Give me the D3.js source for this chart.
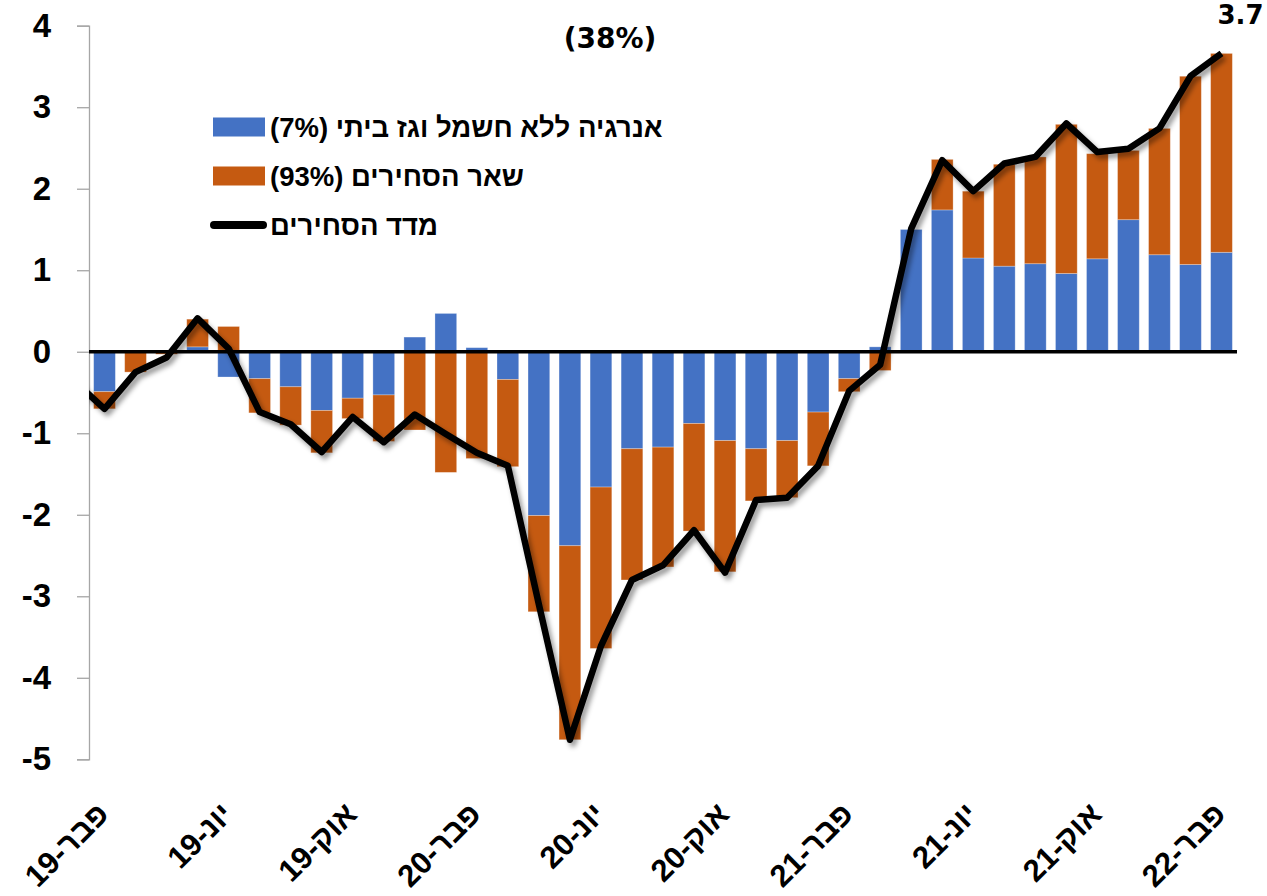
<!DOCTYPE html>
<html>
<head>
<meta charset="utf-8">
<script src="https://cdn.jsdelivr.net/npm/d3@7"></script>
<style>
  body { margin: 0; background: #fff; }
  text { font-family: "Liberation Sans", "DejaVu Sans", sans-serif; font-weight: bold; fill: #000; }
  .wide { font-family: "DejaVu Sans", "Liberation Sans", sans-serif; }
</style>
</head>
<body>
<div id="chart"></div>
<script>
// months Feb-19 .. Feb-22
const months = [
  "פבר-19","מרץ-19","אפר-19","מאי-19","יונ-19","יול-19","אוג-19","ספט-19","אוק-19","נוב-19","דצמ-19",
  "ינו-20","פבר-20","מרץ-20","אפר-20","מאי-20","יונ-20","יול-20","אוג-20","ספט-20","אוק-20","נוב-20","דצמ-20",
  "ינו-21","פבר-21","מרץ-21","אפר-21","מאי-21","יונ-21","יול-21","אוג-21","ספט-21","אוק-21","נוב-21","דצמ-21",
  "ינו-22","פבר-22"
];
const tickMonths = ["פבר-19","יונ-19","אוק-19","פבר-20","יונ-20","אוק-20","פבר-21","יונ-21","אוק-21","פבר-22"];

// energy excl. electricity & gas (7%)
const energy = [
  -0.49, 0.00, 0.00, 0.06, -0.31, -0.33, -0.43, -0.72, -0.57, -0.53, 0.18,
  0.47, 0.05, -0.34, -2.01, -2.38, -1.66, -1.19, -1.17, -0.88, -1.09, -1.19, -1.09,
  -0.74, -0.33, 0.06, 1.50, 1.74, 1.15, 1.05, 1.08, 0.96, 1.14, 1.62, 1.19,
  1.07, 1.22
];
// rest of tradables (93%)
const rest = [
  -0.21, -0.25, -0.03, 0.34, 0.31, -0.42, -0.47, -0.52, -0.25, -0.57, -0.96,
  -1.48, -1.31, -1.07, -1.18, -2.38, -1.98, -1.61, -1.47, -1.32, -1.61, -0.64, -0.70,
  -0.66, -0.16, -0.23, 0.00, 0.62, 0.82, 1.25, 1.31, 1.83, 1.29, 0.85, 1.55,
  2.31, 2.44
];
// tradables index, starting one month earlier (Jan-19)
const indexValues = [
  -0.35,
  -0.70, -0.25, -0.07, 0.41, 0.04, -0.74, -0.89, -1.23, -0.80, -1.11, -0.77,
  -1.01, -1.24, -1.40, -3.10, -4.76, -3.61, -2.80, -2.62, -2.19, -2.71, -1.82, -1.79,
  -1.40, -0.48, -0.16, 1.51, 2.35, 1.97, 2.31, 2.39, 2.80, 2.45, 2.49, 2.74,
  3.38, 3.66
];
const yTicks = [4, 3, 2, 1, 0, -1, -2, -3, -4, -5];
const legendLabels = ["אנרגיה ללא חשמל וגז ביתי (7%)", "שאר הסחירים (93%)", "מדד הסחירים"];
const titleText = "(38%)";
const lastLabel = "3.7";

const width = 1267, height = 896;
const margin = { left: 89, right: 1237, top: 25.7, bottom: 759.3 };
const colors = { energy: "#4472C4", rest: "#C55A11" };

const svg = d3.select("#chart").append("svg")
  .attr("width", width).attr("height", height);

const defs = svg.append("defs");
const shadow = defs.append("filter").attr("id", "shadow")
  .attr("x", "-10%").attr("y", "-10%").attr("width", "130%").attr("height", "130%");
shadow.append("feDropShadow").attr("dx", 3).attr("dy", 4)
  .attr("stdDeviation", 2.5).attr("flood-color", "#000").attr("flood-opacity", 0.4);
defs.append("clipPath").attr("id", "plot")
  .append("rect").attr("x", margin.left).attr("y", 0).attr("width", width - margin.left).attr("height", height);

const x = d3.scaleBand().domain(months).range([margin.left, margin.right]).paddingInner(0.3).paddingOuter(0.15);
const y = d3.scaleLinear().domain([-5, 4]).range([margin.bottom, margin.top]);
const step = x.step();
const cx = m => x(m) + x.bandwidth() / 2;

// y axis
const yAxis = svg.append("g")
  .attr("transform", `translate(${margin.left},0)`)
  .call(d3.axisLeft(y).tickValues(yTicks).tickSize(12).tickPadding(26).tickFormat(d => String(d)));
yAxis.select(".domain").attr("stroke", "#a6a6a6").attr("stroke-width", 1.3);
yAxis.selectAll(".tick line").attr("stroke", "#a6a6a6").attr("stroke-width", 1.3);
yAxis.selectAll(".tick text").style("font-size", "33px").attr("fill", "#000");

// stacked bars (positives and negatives stacked separately)
const rows = months.map((m, i) => ({ month: m, energy: energy[i], rest: rest[i] }));
const stacked = d3.stack().keys(["energy", "rest"]).offset(d3.stackOffsetDiverging)(rows);

svg.append("g").selectAll("g")
  .data(stacked).join("g")
  .attr("fill", d => colors[d.key])
  .selectAll("rect")
  .data(d => d).join("rect")
  .attr("x", d => x(d.data.month))
  .attr("width", x.bandwidth())
  .attr("y", d => y(d[1]))
  .attr("height", d => Math.abs(y(d[0]) - y(d[1])))
  .attr("stroke", "rgba(255,255,255,0.35)")
  .attr("stroke-width", 0.8);

// zero line
svg.append("line")
  .attr("x1", margin.left).attr("x2", margin.right)
  .attr("y1", y(0)).attr("y2", y(0))
  .attr("stroke", "#000").attr("stroke-width", 3.4);

// index line
const linePts = indexValues.map((v, i) => ({ x: cx(months[0]) + (i - 1) * step, v }));
const line = d3.line().x(d => d.x).y(d => y(d.v));
svg.append("g").attr("clip-path", "url(#plot)")
  .append("path")
  .datum(linePts)
  .attr("d", line)
  .attr("fill", "none")
  .attr("stroke", "#000")
  .attr("stroke-width", 6.5)
  .attr("stroke-linejoin", "round")
  .attr("filter", "url(#shadow)");

// last value label
svg.append("text")
  .attr("class", "wide")
  .attr("x", cx(months[months.length - 1]) + 19)
  .attr("y", 24)
  .attr("text-anchor", "middle")
  .style("font-size", "26px")
  .text(lastLabel);

// title fragment
svg.append("text")
  .attr("class", "wide")
  .attr("x", 610).attr("y", 48)
  .attr("text-anchor", "middle")
  .style("font-size", "28px")
  .text(titleText);

// x tick labels (rotated)
svg.append("g").selectAll("text")
  .data(tickMonths).join("text")
  .attr("direction", "rtl")
  .attr("text-anchor", "start")
  .attr("transform", d => `translate(${cx(d) + 6},${816}) rotate(-45)`)
  .style("font-size", "31px")
  .text(d => d);

// legend
const legend = svg.append("g");
const legendY = [127, 176, 225];
legend.append("rect").attr("x", 213).attr("y", legendY[0] - 9.5).attr("width", 52).attr("height", 19).attr("fill", colors.energy);
legend.append("rect").attr("x", 213).attr("y", legendY[1] - 9.5).attr("width", 52).attr("height", 19).attr("fill", colors.rest);
legend.append("line").attr("x1", 214).attr("x2", 263).attr("y1", legendY[2]).attr("y2", legendY[2])
  .attr("stroke", "#000").attr("stroke-width", 8).attr("stroke-linecap", "round");
legend.selectAll("text.lg")
  .data(legendLabels).join("text")
  .attr("class", "lg")
  .attr("direction", "rtl")
  .attr("text-anchor", "end")
  .attr("x", 270)
  .attr("y", (d, i) => legendY[i] + 9.5)
  .style("font-size", "27.5px")
  .text(d => d);
</script>
</body>
</html>
